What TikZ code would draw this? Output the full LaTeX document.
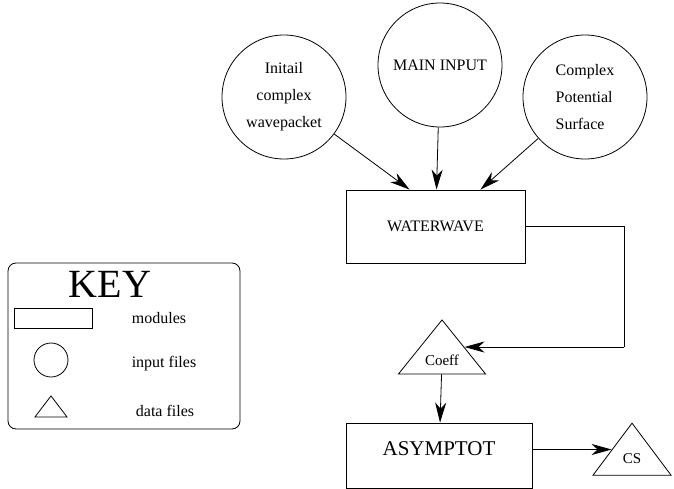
\documentclass[tikz,border=0pt]{standalone}
\usepackage{fontspec}
\setmainfont{Liberation Serif}
\usetikzlibrary{shapes.geometric,arrows.meta}

\tikzset{
  module/.style={draw, rectangle, inner sep=0pt},
  infile/.style={draw, circle, minimum size=124pt, inner sep=0pt,
    font=\fontsize{16pt}{27pt}\selectfont},
  datafile/.style={draw, isosceles triangle, shape border rotate=90,
    isosceles triangle stretches, inner sep=0pt},
  flow/.style={-{Stealth[length=20pt,width=11pt,inset=6pt]}},
  keytext/.style={font=\fontsize{16pt}{19pt}\selectfont},
}

\begin{document}
\begin{tikzpicture}[x=1pt, y=-1pt, line width=0.8pt]
  \useasboundingbox (0,0) rectangle (674,489);

  \node[infile, align=center] (wave) at (284,97) {Initail\\complex\\wavepacket};
  \node[infile] (main) at (440,65) {MAIN INPUT};
  \node[infile, align=left] (surf) at (585,97) {Complex\\Potential\\Surface};

  \node[module, minimum width=179pt, minimum height=73pt,
    font=\fontsize{16pt}{19pt}\selectfont] (water) at (435.5,226.5) {WATERWAVE};
  \node[datafile, minimum width=87pt, minimum height=54pt,
    font=\fontsize{15pt}{18pt}\selectfont] (coeff) at (442,360) {Coeff};
  \node[module, minimum width=186pt, minimum height=65pt, text depth=14pt,
    font=\fontsize{21pt}{25pt}\selectfont] (asym) at (439,455.5) {ASYMPTOT};
  \node[datafile, minimum width=78pt, minimum height=52pt,
    font=\fontsize{15pt}{18pt}\selectfont] (cs) at (632,459) {CS};

  \coordinate (bend) at (624,0);

  \draw[flow] (wave) -- ([xshift=64pt]water.north west);
  \draw[flow] (main) -- (water);
  \draw[flow] (surf) -- ([xshift=-45pt]water.north east);
  \draw (water.east) -| (bend |- coeff.30);
  \draw[flow] (bend |- coeff.30) -- (coeff.30);
  \draw[flow] (coeff) -- (asym);
  \draw[flow] (asym.east |- cs.155) -- (cs.155);

  \node[draw, rounded corners=8pt, minimum width=232pt, minimum height=166pt] (key) at (124,346) {};
  \node[font=\fontsize{40pt}{40pt}\selectfont] (keytitle) at (110,284) {KEY};
  \node[module, minimum width=78pt, minimum height=20pt] (keymod) at (53.5,318) {};
  \node[draw, circle, minimum size=34pt, inner sep=0pt] (keyin) at (51,360) {};
  \node[datafile, minimum width=32pt, minimum height=21pt] (keydata) at (51,409) {};
  \node[keytext] (modtext) at (159,318) {modules};
  \node[keytext] (intext) at (164,364) {input files};
  \node[keytext] (datatext) at (165,411) {data files};
\end{tikzpicture}
\end{document}
